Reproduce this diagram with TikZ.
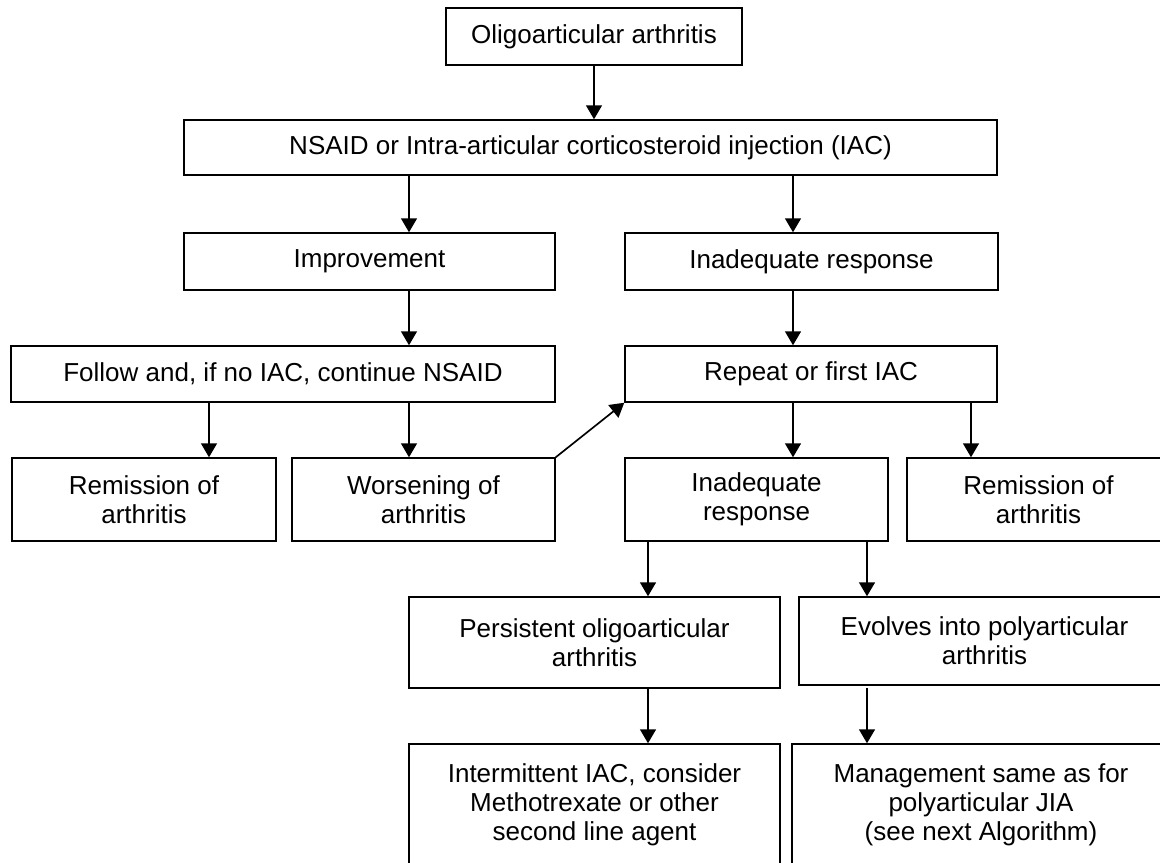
\documentclass[tikz,border=0pt]{standalone}
\usepackage{fontspec}
\setmainfont{Liberation Sans}
\usetikzlibrary{arrows.meta,calc}

\tikzset{every picture/.style={line width=0.75pt}}
\tikzset{
  box/.style={draw, line width=1.1pt, align=center, inner sep=0pt,
    font=\fontsize{19.5pt}{21.75pt}\selectfont},
  arr/.style={-{Triangle[length=10.5pt,width=12pt]}, line width=1.25pt}
}

\begin{document}
\begin{tikzpicture}[x=0.75pt,y=0.75pt,yscale=-1,xscale=1]
%set diagram left start at 0, and has height of 863
\useasboundingbox (0,0) rectangle (1160,863);

% Text Node
\draw (594,36.5) node [box, minimum width=222pt, minimum height=42.75pt] (top) {Oligoarticular arthritis};
% Text Node
\draw (590.5,147.5) node [box, minimum width=609.75pt, minimum height=41.25pt] (nsaid) {NSAID or Intra-articular corticosteroid injection (IAC)};
% Text Node
\draw (369.5,261.5) node [box, minimum width=278.25pt, minimum height=42.75pt] (improve) {Improvement};
% Text Node
\draw (811.5,261.5) node [box, minimum width=279.75pt, minimum height=42.75pt] (inadeqA) {Inadequate response};
% Text Node
\draw (283,374) node [box, minimum width=408pt, minimum height=42pt] (follow) {Follow and, if no IAC, continue NSAID};
% Text Node
\draw (811,374) node [box, minimum width=279pt, minimum height=42pt] (repeat) {Repeat or first IAC};
% Text Node
\draw (144,499.5) node [box, minimum width=198pt, minimum height=62.25pt] (remitL) {Remission of\\arthritis};
% Text Node
\draw (423.5,499.5) node [box, minimum width=197.25pt, minimum height=62.25pt] (worse) {Worsening of\\arthritis};
% Text Node
\draw (756.5,499.5) node [box, minimum width=197.25pt, minimum height=62.25pt] (inadeqB) {Inadequate\\response};
% Text Node
\draw (1038.5,499.5) node [box, minimum width=197.25pt, minimum height=62.25pt] (remitR) {Remission of\\arthritis};
% Text Node
\draw (594.5,642.5) node [box, minimum width=278.25pt, minimum height=68.25pt] (persist) {Persistent oligoarticular\\arthritis};
% Text Node
\draw (984.5,641) node [box, minimum width=278.25pt, minimum height=66pt] (evolve) {Evolves into polyarticular\\arthritis};
% Text Node
\draw (594.5,805) node [box, minimum width=278.25pt, minimum height=91.5pt] (interm) {Intermittent IAC, consider\\Methotrexate or other\\second line agent};
% Text Node
\draw (981,805) node [box, minimum width=283.5pt, minimum height=91.5pt] (manage) {Management same as for\\polyarticular JIA\\(see next Algorithm)};

%Straight Lines
\draw [arr] (top.south) -- (top.south |- nsaid.north);
%Straight Lines
\draw [arr] ($(nsaid.south)+(-181.5,0)$) -- ($(improve.north)+(39.5,0)$);
%Straight Lines
\draw [arr] ($(nsaid.south)+(202.5,0)$) -- ($(inadeqA.north)+(-18.5,0)$);
%Straight Lines
\draw [arr] ($(improve.south)+(39.5,0)$) -- ($(follow.north)+(126,0)$);
%Straight Lines
\draw [arr] ($(inadeqA.south)+(-18.5,0)$) -- ($(repeat.north)+(-18,0)$);
%Straight Lines
\draw [arr] ($(follow.south)+(-74,0)$) -- ($(remitL.north)+(65,0)$);
%Straight Lines
\draw [arr] ($(follow.south)+(126,0)$) -- ($(worse.north)+(-14.5,0)$);
%Straight Lines
\draw [arr] (worse.north east) -- (repeat.south west);
%Straight Lines
\draw [arr] ($(repeat.south)+(-18,0)$) -- ($(inadeqB.north)+(36.5,0)$);
%Straight Lines
\draw [arr] ($(repeat.south)+(160,0)$) -- ($(remitR.north)+(-67.5,0)$);
%Straight Lines
\draw [arr] ($(inadeqB.south)+(-108.5,0)$) -- ($(persist.north)+(53.5,0)$);
%Straight Lines
\draw [arr] ($(inadeqB.south)+(110.5,0)$) -- ($(evolve.north)+(-117.5,0)$);
%Straight Lines
\draw [arr] ($(persist.south)+(53.5,0)$) -- ($(interm.north)+(53.5,0)$);
%Straight Lines
\draw [arr] ($(evolve.south)+(-117.5,2)$) -- ($(manage.north)+(-114,0)$);

\end{tikzpicture}
\end{document}
